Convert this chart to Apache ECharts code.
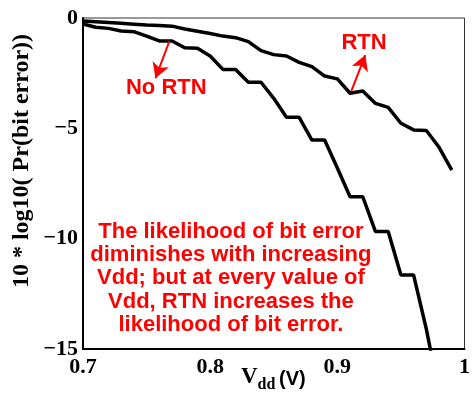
<!DOCTYPE html>
<html>
<head>
<meta charset="utf-8">
<script src="https://cdn.jsdelivr.net/npm/echarts@6/dist/echarts.min.js"></script>
<style>
  html, body { margin: 0; padding: 0; background: #fff; }
  #chart { width: 473px; height: 398px; }
</style>
</head>
<body>
<div id="chart"></div>
<script>
// Supply voltage sweep (V)
const vdd = [0.70, 0.71, 0.72, 0.73, 0.74, 0.75, 0.76, 0.77, 0.78, 0.79,
             0.80, 0.81, 0.82, 0.83, 0.84, 0.85, 0.86, 0.87, 0.88, 0.89,
             0.90, 0.91, 0.92, 0.93, 0.94, 0.95, 0.96, 0.97, 0.98, 0.99];

// 10*log10(Pr(bit error)) without random telegraph noise
const noRtn = [-0.27, -0.42, -0.47, -0.59, -0.62, -0.82, -1.04, -1.04, -1.35, -1.37,
               -1.72, -2.33, -2.33, -2.91, -2.91, -3.64, -4.50, -4.50, -5.53, -5.53,
               -6.80, -8.10, -8.10, -9.68, -9.68, -11.65, -11.65, -14.10, -17.00];

// 10*log10(Pr(bit error)) with random telegraph noise
const rtn = [-0.14, -0.17, -0.20, -0.24, -0.28, -0.32, -0.34, -0.37, -0.50, -0.60,
             -0.70, -0.82, -0.89, -1.07, -1.48, -1.66, -1.72, -2.01, -2.20, -2.63,
             -2.76, -3.41, -3.31, -3.87, -4.05, -4.77, -5.07, -5.10, -5.86, -6.89];

// Axis tick labels
const xTickLabels = ['0.7', '0.8', '0.9', '1'];
const yTickLabels = ['\u221215', '\u221210', '\u22125', '0'];

// Callout arrows: [from curve point, to label] in data units
const noRtnArrow = [[0.768, -1.04], [0.757, -2.73]];
const rtnArrow = [[0.911, -3.31], [0.922, -1.68]];

// Callout label anchors in data units
const noRtnLabelAt = [0.7655, -3.17];
const rtnLabelAt = [0.921, -1.13];
const noteAt = [0.8163, -11.8];

const noteLines = [
  'The likelihood of bit error',
  'diminishes with increasing',
  'Vdd; but at every value of',
  'Vdd, RTN increases the',
  'likelihood of bit error.'
];

const SERIF = '"Liberation Serif", "Times New Roman", serif';
const SANS = '"Liberation Sans", Arial, sans-serif';
const RED = '#ff0000';

const chart = echarts.init(document.getElementById('chart'), null, { renderer: 'canvas' });

function arrowLine(pts) {
  return [
    { coord: pts[0], symbol: 'none' },
    { coord: pts[1], symbol: 'arrow' }
  ];
}

chart.setOption({
  animation: false,
  backgroundColor: '#fff',
  grid: { left: 83, right: 2, top: 18, bottom: 49, show: true, borderColor: '#333', borderWidth: 1 },
  xAxis: {
    type: 'value', min: 0.7, max: 1.0, interval: 0.1,
    splitLine: { show: false },
    axisTick: { show: false },
    axisLine: { onZero: false, lineStyle: { color: '#000', width: 2 } },
    axisLabel: {
      margin: 7, color: '#000', fontFamily: SERIF, fontWeight: 'bold', fontSize: 22,
      formatter: v => xTickLabels[Math.round((v - 0.7) / 0.1)]
    }
  },
  yAxis: {
    type: 'value', min: -15, max: 0, interval: 5,
    splitLine: { show: false },
    axisTick: { show: false },
    axisLine: { onZero: false, lineStyle: { color: '#000', width: 2 } },
    axisLabel: {
      margin: 5, color: '#000', fontFamily: SERIF, fontWeight: 'bold', fontSize: 22,
      padding: [6, 0, 0, 0],
      formatter: v => yTickLabels[Math.round((v + 15) / 5)]
    }
  },
  series: [
    {
      name: 'No RTN', type: 'line', symbol: 'none', clip: true,
      lineStyle: { color: '#000', width: 3.5 },
      data: noRtn.map((y, i) => [vdd[i], y]),
      markLine: {
        silent: true, symbolSize: [13, 15], label: { show: false },
        lineStyle: { color: RED, width: 2, type: 'solid' },
        data: [arrowLine(noRtnArrow)]
      }
    },
    {
      name: 'RTN', type: 'line', symbol: 'none', clip: true,
      lineStyle: { color: '#000', width: 3.5 },
      data: rtn.map((y, i) => [vdd[i], y]),
      markLine: {
        silent: true, symbolSize: [13, 15], label: { show: false },
        lineStyle: { color: RED, width: 2, type: 'solid' },
        data: [arrowLine(rtnArrow)]
      }
    }
  ]
});

// Text callouts and axis titles, placed from data coordinates where they annotate the plot
const p1 = chart.convertToPixel({ gridIndex: 0 }, noRtnLabelAt);
const p2 = chart.convertToPixel({ gridIndex: 0 }, rtnLabelAt);
const p3 = chart.convertToPixel({ gridIndex: 0 }, noteAt);

const calloutStyle = { fill: RED, font: 'bold 22px ' + SANS, textAlign: 'center', textVerticalAlign: 'middle' };

chart.setOption({
  graphic: [
    { type: 'text', x: p1[0], y: p1[1], style: Object.assign({ text: 'No RTN' }, calloutStyle) },
    { type: 'text', x: p2[0], y: p2[1], style: Object.assign({ text: 'RTN' }, calloutStyle) },
    {
      type: 'text', x: p3[0], y: p3[1],
      style: Object.assign({ text: noteLines.join('\n'), lineHeight: 23.3 }, calloutStyle)
    },
    // y-axis title
    {
      type: 'text', x: 22, y: 161, rotation: Math.PI / 2,
      style: {
        text: '10 * log10( Pr(bit error))', fill: '#000',
        font: 'bold 24px ' + SERIF, textAlign: 'center', textVerticalAlign: 'middle'
      }
    },
    // x-axis title: V_dd (V)
    {
      type: 'group', x: 241, y: 389,
      children: [
        { type: 'text', x: 0, y: 0, style: { text: 'V', fill: '#000', font: 'bold 23px ' + SERIF, textAlign: 'left', textVerticalAlign: 'bottom' } },
        { type: 'text', x: 16.5, y: 4, style: { text: 'dd', fill: '#000', font: 'bold 16px ' + SERIF, textAlign: 'left', textVerticalAlign: 'bottom' } },
        { type: 'text', x: 38, y: 0, style: { text: '(V)', fill: '#000', font: 'bold 20px ' + SANS, textAlign: 'left', textVerticalAlign: 'bottom' } }
      ]
    }
  ]
});
</script>
</body>
</html>
